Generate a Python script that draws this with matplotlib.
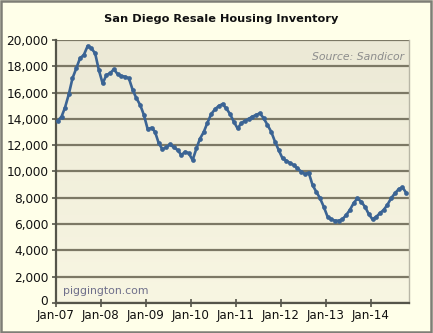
import matplotlib
matplotlib.use("Agg")
import matplotlib.pyplot as plt
import matplotlib.dates as mdates
import matplotlib.transforms as mtransforms
import numpy as np
import pandas as pd
from matplotlib.patches import Rectangle

# Monthly resale inventory, Jan 2007 - Oct 2014
inventory = [
    13840, 14170, 14850, 15870, 17090, 17850, 18610, 18860, 19540, 19370, 18990, 17720,
    16700, 17340, 17470, 17770, 17410, 17260, 17210, 17090, 16200, 15570, 15060, 14300,
    13210, 13330, 13030, 12140, 11690, 11840, 12070, 11840, 11630, 11250, 11500, 11380,
    10870, 11760, 12480, 13000, 13700, 14370, 14730, 14980, 15130, 14800, 14370, 13790,
    13280, 13670, 13860, 14000, 14170, 14300, 14430, 14050, 13540, 13030, 12270, 11630,
    11000, 10820, 10650, 10490, 10240, 9990, 9810, 9910, 8970, 8460, 7960, 7320,
    6560, 6360, 6260, 6260, 6360, 6690, 7070, 7600, 7960, 7700, 7320, 6770,
    6360, 6560, 6820, 7070, 7450, 7960, 8330, 8650, 8800, 8390,
]
months = pd.date_range("2007-01-01", periods=len(inventory), freq="MS") + pd.Timedelta(days=14)
y_ticks = list(range(0, 20001, 2000))

title = "San Diego Resale Housing Inventory"
source_note = "Source: Sandicor"
site_note = "piggington.com"

fig = plt.figure(figsize=(4.33, 3.33), dpi=100, facecolor="#FFFFE9")
fig.patches.append(Rectangle((0.003, 0.004), 0.993, 0.992, transform=fig.transFigure,
                             fill=False, edgecolor="#7E7E76", linewidth=1.8))

ax = fig.add_axes([0.1293, 0.0901, 0.9453 - 0.1293, 0.8799 - 0.0901])

# plot area gradient (darker beige at top, lighter at bottom)
grad = np.linspace(0, 1, 256).reshape(-1, 1)
top = np.array([0xEC, 0xE9, 0xD6]) / 255
bot = np.array([0xF8, 0xF6, 0xE2]) / 255
img = top[None, None, :] * (1 - grad[..., None]) + bot[None, None, :] * grad[..., None]
ax.imshow(img, extent=[0, 1, 0, 1], transform=ax.transAxes, aspect="auto", zorder=0)

ax.plot(months, inventory, color="#3B6494", linewidth=1.9, marker="o",
        markersize=3.4, markeredgewidth=0, zorder=3)

ax.set_ylim(0, 20000)
ax.set_xlim(pd.Timestamp("2007-01-01"), pd.Timestamp("2014-11-10"))
ax.set_yticks(y_ticks)
ax.yaxis.set_major_formatter(matplotlib.ticker.FuncFormatter(lambda v, p: f"{int(v):,}"))
ax.xaxis.set_major_locator(mdates.YearLocator())
ax.xaxis.set_major_formatter(mdates.DateFormatter("%b-%y"))

ax.grid(axis="y", color="#7C7865", linewidth=1.6, zorder=1)
ax.set_axisbelow(True)
ax.spines["top"].set_visible(False)
ax.spines["left"].set_color("#55554A")
ax.spines["left"].set_linewidth(1.6)
ax.spines["bottom"].set_color("#55554A")
ax.spines["bottom"].set_linewidth(1.6)
ax.spines["right"].set_color("#B8B6A6")
ax.spines["right"].set_linewidth(1.0)

ax.tick_params(axis="y", direction="out", length=3, width=1.2, color="#55554A",
               labelsize=8.7, labelcolor="#111111", pad=2.5)
ax.tick_params(axis="x", direction="inout", length=6, width=1.2, color="#55554A",
               labelsize=8.6, labelcolor="#111111", pad=1.5)

# lift the "0" label a few pixels so it clears the first date label
zero_label = ax.yaxis.get_major_ticks()[0].label1
zero_label.set_transform(zero_label.get_transform()
                         + mtransforms.ScaledTranslation(0, 3 / 100, fig.dpi_scale_trans))

fig.text(0.51, 0.943, title, ha="center", va="center", fontsize=8.2,
         fontweight="bold", color="#111111")
ax.text(0.985, 0.935, source_note, transform=ax.transAxes, ha="right", va="center",
        fontsize=7.8, style="italic", color="#8C8C8C")
ax.text(0.02, 0.045, site_note, transform=ax.transAxes, ha="left", va="center",
        fontsize=7.8, color="#6E6E8A")

fig.savefig("out.png", dpi=100, facecolor=fig.get_facecolor())
